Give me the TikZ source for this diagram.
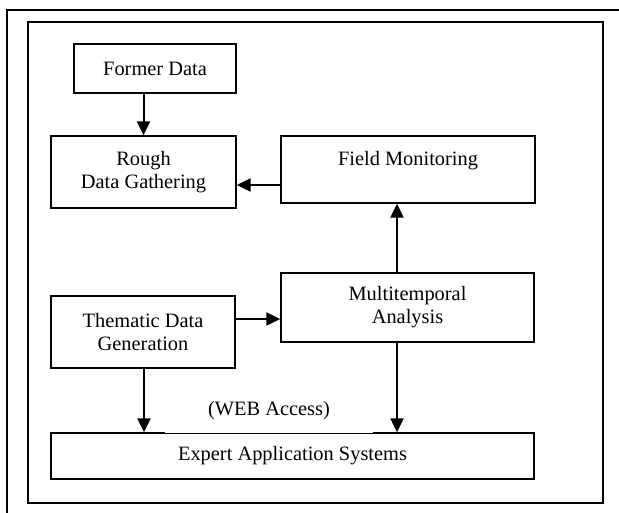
\documentclass[tikz,border=0pt]{standalone}
\usepackage{fontspec}
\setmainfont{Liberation Serif}
\usetikzlibrary{arrows.meta}

\begin{document}
\begin{tikzpicture}[
		x=1pt, y=-1pt,
		font=\fontsize{20.4}{23}\selectfont,
		block/.style={rectangle,draw=black,line width=1.3pt,fill=white,
		inner sep=0pt,align=center},
		flow/.style={>={Triangle[length=14pt,width=13pt]},draw=black,line width=2pt,->},
		frame/.style={draw=black,line width=1.1pt}
		]
		\useasboundingbox (0,0) rectangle (619,512);
		\clip (0,0) rectangle (619,512);
		\draw[frame, line width=1.3pt] (7,10) rectangle (640,540);
		\draw[frame] (28,22) rectangle (603,503);
		\node[block, minimum width=162pt, minimum height=49pt] (former) at (155,68.5) {Former Data};
		\node[block, minimum width=185pt, minimum height=72pt] (rough) at (143.5,172) {Rough\\Data Gathering};
		\node[block, minimum width=254pt, minimum height=67pt,
			text height=14pt, text depth=23pt] (field) at (408,169.5) {Field Monitoring};
		\node[block, minimum width=184pt, minimum height=72pt] (thematic) at (143,332) {Thematic Data\\Generation};
		\node[block, minimum width=253pt, minimum height=69pt] (multi) at (407.5,307.5) {Multitemporal\\Analysis};
		\node[block, minimum width=483pt, minimum height=46pt] (expert) at (292.5,456) {Expert Application Systems};
		\node[fill=white, inner sep=0pt, minimum width=208pt, minimum height=44pt] (web) at (269,411) {(WEB Access)};
		\draw[flow] (former.south -| rough.north) -- (rough.north);
		\draw[flow] ([yshift=-15.5pt]field.west) -- ([yshift=-15.5pt]field.west -| rough.east);
		\draw[flow] ([xshift=-10.5pt]multi.north) -- ([xshift=-10.5pt]multi.north |- field.south);
		\draw[flow] ([yshift=13pt]thematic.east) -- ([yshift=13pt]thematic.east -| multi.west);
		\draw[flow] ([xshift=1pt]thematic.south) -- ([xshift=1pt]thematic.south |- expert.north);
		\draw[flow] ([xshift=-10.5pt]multi.south) -- ([xshift=-10.5pt]multi.south |- expert.north);
	\end{tikzpicture}
\end{document}
